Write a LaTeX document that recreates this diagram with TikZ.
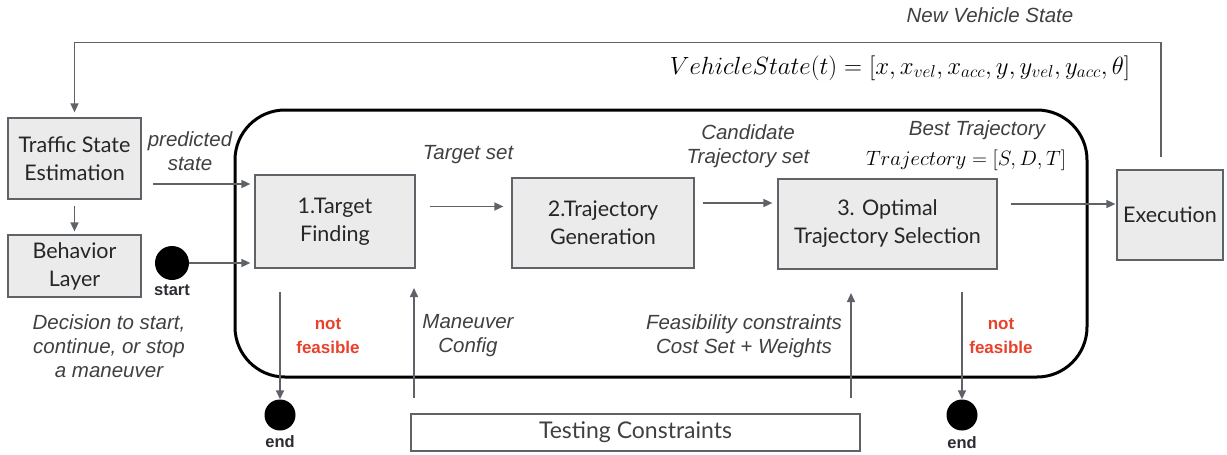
\documentclass[tikz,border=0pt]{standalone}
\usepackage{fontspec}
\setmainfont{Lato}
\newfontfamily\labelfont{Liberation Sans}
\usetikzlibrary{arrows.meta,positioning}

\definecolor{boxgray}{HTML}{EBEBEB}
\definecolor{linegray}{HTML}{5F6368}
\definecolor{notred}{HTML}{E8412C}
\definecolor{enddark}{HTML}{2B2D33}

\begin{document}
\begin{tikzpicture}[x=1pt,y=-1pt,
  stage/.style={draw=linegray,fill=boxgray,line width=1.2pt,align=center,inner sep=0pt,
    text=black!85,font=\fontsize{21.5}{28}\selectfont},
  lbl/.style={font=\labelfont\itshape\fontsize{20.5}{24}\selectfont,text=black!75,align=center},
  warn/.style={font=\labelfont\bfseries\fontsize{17}{24}\selectfont,text=notred,align=center},
  dot/.style={circle,fill=black,minimum size=32pt,inner sep=0pt},
  tag/.style={font=\labelfont\bfseries\fontsize{16.5}{18}\selectfont,text=enddark},
  flow/.style={draw=linegray,line width=1.6pt,-{Triangle[length=9pt,width=8pt]}}]
\useasboundingbox (0,0) rectangle (1227,455);

% outer frame
\draw[line width=3pt,rounded corners=50pt] (235,110) rectangle (1087,377);

% boxes
\node[stage,minimum width=133pt,minimum height=81pt] (tse) at (74.5,158.5) {Traffic State\\Estimation};
\node[stage,minimum width=133pt,minimum height=62pt] (bl) at (74.5,266) {Behavior\\Layer};
\node[stage,minimum width=160pt,minimum height=93pt] (tf) at (335,221.5) {1.Target\\Finding};
\node[stage,minimum width=182pt,minimum height=90pt] (tg) at (603,223) {2.Trajectory\\Generation};
\node[stage,minimum width=219pt,minimum height=90pt] (ots) at (887.5,224) {3. Optimal\\Trajectory Selection};
\node[stage,minimum width=106pt,minimum height=90pt] (ex) at (1170,215) {Execution};
\node[stage,fill=white,text=black!75,font=\fontsize{23}{28}\selectfont,minimum width=449pt,minimum height=37pt] (tc) at (635.5,432.5) {Testing Constraints};

% start / end
\node[dot,minimum size=34pt] (start) at (172,263) {};
\node[tag] at (172,290) {start};
\node[dot,minimum size=31pt] (end1) at (280,415) {};
\node[tag] at (280,442) {end};
\node[dot,minimum size=31pt] (end2) at (962,415) {};
\node[tag] at (962,443) {end};

% free ends
\coordinate (ps) at (153,184);
\coordinate (nf1) at (280,292);
\coordinate (nf2) at (962,292);
\coordinate (mc) at (414,398);
\coordinate (fc) at (851,398);

% arrows
\draw[flow] ([yshift=-6pt]tse.south) -- ([yshift=3pt]bl.north);
\draw[flow,shorten >=4pt] (ps) -- (ps -| tf.west);
\draw[flow,shorten <=17pt,shorten >=4pt] (start.center) -- (start -| tf.west);
\draw[flow,shorten <=14pt,shorten >=8pt] ([yshift=15pt]tf.east) -- ([yshift=15pt]tf.east -| tg.west);
\draw[flow,shorten <=8pt,shorten >=5pt] ([yshift=20pt]tg.east) -- ([yshift=20pt]tg.east -| ots.west);
\draw[flow,shorten <=13pt,shorten >=1pt] ([yshift=20pt]ots.east) -- ([yshift=20pt]ots.east -| ex.west);
\draw[flow] ([xshift=-9pt,yshift=12pt]ex.north) |- ([yshift=75pt]tse.north) -- ([yshift=5pt]tse.north);
\draw[flow] (nf1) -- (end1.north);
\draw[flow] (nf2) -- (end2.north);
\draw[flow] (mc) -- ++(0,-110);
\draw[flow] (fc) -- ++(0,-105);

% labels
\node[lbl] at (190,151) {predicted\\state};
\node[lbl] at (109,346) {Decision to start,\\continue, or stop\\a maneuver};
\node[lbl] at (468,155) {Target set};
\node[lbl] at (748,146) {Candidate\\Trajectory set};
\node[lbl] at (977,130) {Best Trajectory};
\node[font=\fontsize{22.5}{26}\selectfont] at (966,160) {$Trajectory=[S,D,T]$};
\node[lbl] at (990,15) {New Vehicle State};
\node[font=\fontsize{25}{28}\selectfont] at (900,68) {$VehicleState(t)=[x,x_{vel},x_{acc},y,y_{vel},y_{acc},\theta]$};
\node[warn] at (328,336) {not\\feasible};
\node[warn] at (1001,336) {not\\feasible};
\node[lbl] at (468,336) {Maneuver\\Config};
\node[lbl] at (744,336) {Feasibility constraints\\Cost Set + Weights};
\end{tikzpicture}
\end{document}
